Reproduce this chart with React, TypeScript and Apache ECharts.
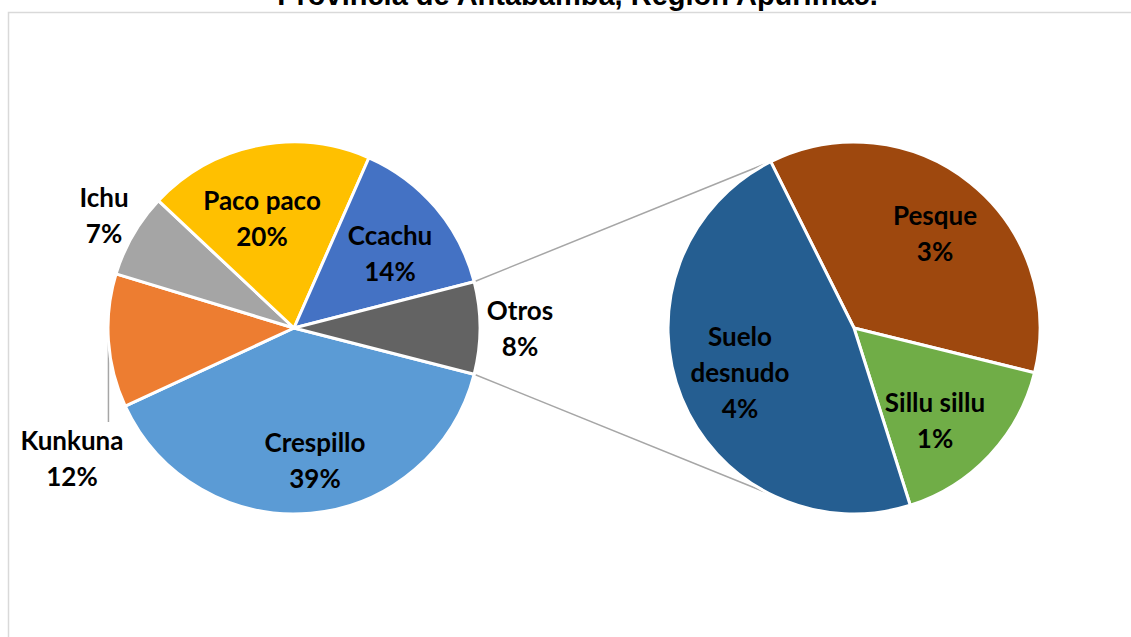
import React, { useEffect, useRef } from "react";
import * as echarts from "echarts";

// ---- data ----
const mainCategories = ["Crespillo", "Kunkuna", "Ichu", "Paco paco", "Ccachu", "Otros"];
const mainValues = [39.1, 11.6, 7.3, 19.6, 14.4, 8.0];
const mainColors = ["#5B9BD5", "#ED7D31", "#A5A5A5", "#FFC000", "#4472C4", "#636363"];

const subCategories = ["Pesque", "Sillu sillu", "Suelo desnudo"];
const subValues = [2.9, 1.3, 3.8];
const subColors = ["#9E480E", "#70AD47", "#255E91"];

const titleText = "Provincia de Antabamba, Región Apurímac.";
const wrapNames = ["Suelo desnudo"];
const leaderNames = ["Kunkuna"];

// ---- layout ----
const W = 1131;
const H = 637;
const R = 186;
const mainCenter = [294, 328];
const subCenter = [854, 328];
const mainStart = -14.4;
const subStart = 116.6;
const mainLabelOffsets = [
  [21, 132],
  [-222, 130],
  [-190, -113],
  [-32, -110],
  [96, -75],
  [226, 0],
];
const subLabelOffsets = [
  [81, -95],
  [81, 92],
  [-114, 44],
];
const LINE_H = 36;

const rad = (d: number) => (d * Math.PI) / 180;
const pt = (c: number[], r: number, deg: number) => [c[0] + r * Math.cos(rad(deg)), c[1] - r * Math.sin(rad(deg))];

function fmtName(n: string) {
  return wrapNames.includes(n) ? n.replace(" ", "\n") : n;
}

export default function App() {
  const ref = useRef<HTMLDivElement>(null);
  useEffect(() => {
    if (!ref.current) return;
    const chart = echarts.init(ref.current, undefined, { renderer: "svg" });

    const mainTotal = mainValues.reduce((a, b) => a + b, 0);
    const otrosIdx = mainCategories.indexOf("Otros");
    let cum = 0;
    for (let i = 0; i < otrosIdx; i++) cum += mainValues[i];
    const otrosStartAng = mainStart - (360 * cum) / mainTotal;
    const otrosEndAng = otrosStartAng - (360 * mainValues[otrosIdx]) / mainTotal;
    const topA = pt(mainCenter, R, otrosStartAng);
    const botA = pt(mainCenter, R, otrosEndAng);
    const topB = pt(subCenter, R, subStart);
    const botB = pt(subCenter, R, -subStart);

    const labelStyle = {
      color: "#000",
      fontWeight: "bold" as const,
      fontFamily: "Lato, 'Open Sans', sans-serif",
      fontSize: 26,
      lineHeight: LINE_H,
    };

    const mainData = mainCategories.map((n, i) => ({
      name: n,
      value: mainValues[i],
      itemStyle: { color: mainColors[i] },
      labelLine: { show: leaderNames.includes(n) },
    }));
    const subData = subCategories.map((n, i) => ({
      name: n,
      value: subValues[i],
      itemStyle: { color: subColors[i] },
    }));

    const midAngle = (vals: number[], start: number, idx: number) => {
      const tot = vals.reduce((a, b) => a + b, 0);
      let c = 0;
      for (let i = 0; i < idx; i++) c += vals[i];
      return start - (360 * (c + vals[idx] / 2)) / tot;
    };

    chart.setOption({
      animation: false,
      backgroundColor: "#fff",
      graphic: [
        {
          type: "rect",
          shape: { x: 8.5, y: 12.5, width: 1140, height: 700 },
          style: { fill: "none", stroke: "#D9D9D9", lineWidth: 1.5 },
          silent: true,
        },
        {
          type: "text",
          x: W / 2 + 12,
          y: -5,
          style: {
            text: titleText,
            font: "bold 29px 'Liberation Sans', Arial, sans-serif",
            fill: "#000",
            textAlign: "center",
            textVerticalAlign: "middle",
          },
        },
        {
          type: "line",
          shape: { x1: topA[0], y1: topA[1], x2: topB[0], y2: topB[1] },
          style: { stroke: "#A6A6A6", lineWidth: 1.5 },
        },
        {
          type: "line",
          shape: { x1: botA[0], y1: botA[1], x2: botB[0], y2: botB[1] },
          style: { stroke: "#A6A6A6", lineWidth: 1.5 },
        },
      ],
      series: [
        {
          type: "pie",
          center: mainCenter,
          radius: [0, R],
          startAngle: mainStart,
          clockwise: true,
          avoidLabelOverlap: false,
          itemStyle: { borderColor: "#fff", borderWidth: 3 },
          label: {
            show: true,
            position: "outside",
            formatter: (p: any) => `${fmtName(p.name)}\n${Math.round(p.value)}%`,
            ...labelStyle,
          },
          labelLine: { show: false, lineStyle: { color: "#A6A6A6", width: 1.5 } },
          labelLayout: (p: any) => {
            const i = p.dataIndex;
            const x = mainCenter[0] + mainLabelOffsets[i][0];
            const y = mainCenter[1] + mainLabelOffsets[i][1];
            const res: any = { x, y, align: "center", verticalAlign: "middle" };
            if (leaderNames.includes(mainCategories[i])) {
              const e = pt(mainCenter, R, midAngle(mainValues, mainStart, i));
              const top = y - LINE_H;
              res.labelLinePoints = [
                [e[0], e[1]],
                [e[0], (e[1] + top) / 2],
                [e[0], top],
              ];
            }
            return res;
          },
          emphasis: { disabled: true },
          data: mainData,
        },
        {
          type: "pie",
          center: subCenter,
          radius: [0, R],
          startAngle: subStart,
          clockwise: true,
          avoidLabelOverlap: false,
          itemStyle: { borderColor: "#fff", borderWidth: 3 },
          label: {
            show: true,
            position: "inside",
            formatter: (p: any) => `${fmtName(p.name)}\n${Math.round(p.value)}%`,
            ...labelStyle,
          },
          labelLine: { show: false },
          labelLayout: (p: any) => {
            const i = p.dataIndex;
            return {
              x: subCenter[0] + subLabelOffsets[i][0],
              y: subCenter[1] + subLabelOffsets[i][1],
              align: "center",
              verticalAlign: "middle",
            };
          },
          emphasis: { disabled: true },
          data: subData,
        },
      ],
    });
    return () => chart.dispose();
  }, []);
  return (
    <div
      ref={ref}
      style={{ position: "fixed", left: 0, top: 0, width: W, height: H }}
    />
  );
}
